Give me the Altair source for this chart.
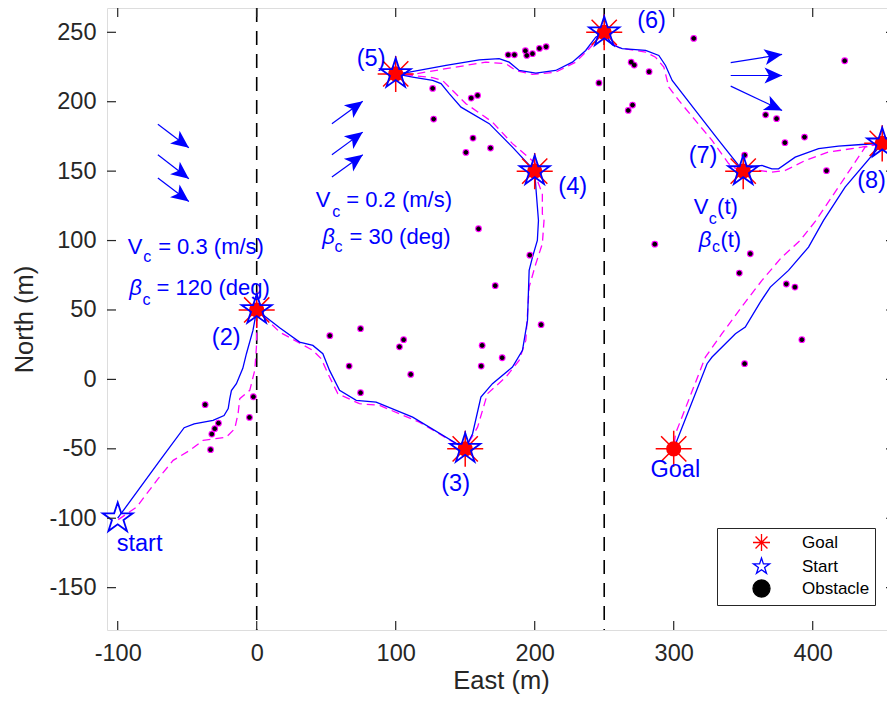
import altair as alt
import pandas as pd
import numpy as np

# ---------------- data ----------------
# waypoints (goals) and start points
goal_x = [0, 150, 200, 100, 250, 350, 450, 300]
goal_y = [50, -50, 150, 220, 250, 150, 170, -50]
start_x = [-100, 0, 150, 200, 100, 250, 350, 450]
start_y = [-100, 50, -50, 150, 220, 250, 150, 170]

# obstacles
obs_x = [-37.1, -27.5, -30.2, -32.3, -33.2, -2.4, -5.2,
         159.6, 196.5, 171.6, 204.6, 74.7, 52.6, 105.7, 102.7, 162.2, 176.6, 66.5, 161.5, 110.8, 74.7,
         180.9, 185.4, 193.3, 194.3, 198.4, 203.4, 208.2, 246.2, 126.6, 154.3, 158.9, 127.3, 155.6, 168.2, 150.5,
         314.4, 269.4, 271.6, 282.3, 270.4, 267.3, 423.0, 366.1, 374.0, 380.0, 394.1, 351.0, 409.9,
         286.4, 355.1, 347.2, 381.0, 387.2, 392.2, 351.0]
obs_y = [-18.2, -31.5, -35.5, -39.4, -50.6, -12.5, -27.4,
         108.5, 89.5, 67.5, 39.4, 36.5, 31.5, 28.6, 23.5, 24.5, 15.6, 9.6, 9.6, 3.6, -9.6,
         233.8, 233.8, 236.7, 233.3, 234.6, 238.4, 239.6, 213.5, 209.6, 202.6, 204.5, 187.5, 173.8, 166.6, 163.5,
         245.6, 228.5, 226.4, 221.6, 197.6, 193.7, 229.5, 190.6, 187.8, 170.5, 174.5, 161.5, 150.3,
         97.4, 90.5, 76.6, 68.7, 66.5, 28.6, 11.3]

# actual path (blue solid)
blue_x = [-100, -69.6, -52.2, -45, -31.4, -23.5, -20.5, -19.4, -18.2, -14.6, -10, -7.4, -2.7, 0,
          16.5, 30.9, 40.4, 47.6, 52.4, 59.6, 71.6, 85.9, 112.2, 150,
          155.3, 161.3, 169.6, 184, 191.2, 194.8, 196, 198.4, 201.9, 202.7, 201, 200,
          184, 167.3, 147, 138.5, 132.6, 126.6, 112.2, 100,
          109.8, 136.2, 160.1, 174.4, 181.6, 188.8, 200.8, 215.1, 227.1, 236.7, 243.9, 250,
          255.8, 262.9, 279.8, 289.3, 294.1, 298.9, 315.6, 332.4, 350,
          356.3, 363.5, 370.6, 375.4, 387.4, 404.2, 418.5, 435.2, 450,
          423.3, 407.8, 397, 382.6, 369.5, 362.3, 351.5, 344.4, 327.6, 324, 300]
blue_y = [-100, -58.3, -34.8, -32, -29.5, -26, -21, -14, -8, -3.1, 8, 18.5, 35.3, 50,
          37.2, 26.9, 24.5, 18.5, 6.5, -7.9, -15.1, -16.3, -27.2, -50,
          -39.1, -12.7, -3.1, 8.9, 20.9, 42.5, 78.5, 88.1, 100.1, 114.5, 136.1, 150,
          167.3, 184.2, 196.1, 205.8, 213, 215.3, 217.7, 220,
          221.3, 226.1, 230.2, 231, 228.5, 222.5, 220.6, 222.5, 228.5, 236.9, 246.5, 250,
          241, 238.2, 237, 233.3, 226.1, 215.3, 193.7, 172.1, 150,
          152.9, 154.1, 151.7, 151.7, 160.1, 166.2, 168, 169.2, 170,
          138.5, 114.5, 95.3, 78.5, 66.5, 55.7, 37.7, 32.9, 16.1, 11.3, -50]

# reference path (magenta dashed)
mag_x = [-99.6, -86.4, -70.9, -60.1, -48.1, -38.5, -28, -21.8, -15.8, -13.4, -12.2, -5, -1.4, -0.2, 0.2, 0,
         16.5, 40.4, 46.4, 52.4, 58.4, 73.9, 88.3, 117, 143.4, 150,
         158.9, 166, 179.3, 188.8, 193.6, 196, 200.8, 205.5, 206.7, 205.5, 205.5, 201.9, 200,
         200.8, 184, 169.6, 150.5, 140.9, 133.7, 126.6, 112.2, 100,
         112.2, 136.2, 164.9, 179.3, 186.4, 198.4, 215.1, 229.5, 239.1, 250,
         253.4, 260.6, 279.8, 286.9, 292.9, 296.5, 303.7, 315.6, 327.6, 339.6, 346.8, 350,
         361.1, 370.6, 380.3, 394.6, 411.3, 435.2, 450,
         437.7, 418.5, 402.0, 391, 377.8, 363.5, 351.5, 334.7, 322.8, 301.3, 300]
mag_y = [-101, -92, -71.5, -58.3, -51.1, -43.9, -42.5, -41.6, -35.5, -24.7, -13.9, -7.9, 6.5, 23.3, 42.5, 50,
         34.1, 20.9, 14.9, 1.7, -10.3, -17.5, -18.7, -30.8, -46.3, -50,
         -34.4, -10.3, 1.7, 13.7, 28.1, 66.5, 83.3, 97.7, 114.5, 119.3, 133.7, 143.3, 150,
         155.3, 169.8, 185.3, 198.6, 208.1, 215.3, 217.3, 218.9, 220,
         219.7, 223.8, 228.5, 227.4, 222.5, 219.7, 221.3, 228.5, 238.2, 250,
         244.1, 238.9, 235.7, 232.1, 224.9, 210.5, 200.9, 186.5, 172.1, 155.3, 150.5, 150,
         150.5, 149.3, 150.5, 157.7, 163.7, 167.3, 170,
         167.3, 138.5, 114.0, 100.1, 88.1, 71.3, 55.7, 32.9, 16.1, -39.1, -50]

# current arrows (tail -> tip)
arr_x0 = [-71.1, -71.1, -71.1, 54.1, 54.1, 54.1, 341.0, 341.0, 341.0]
arr_y0 = [183.7, 161.8, 145.0, 184.2, 161.8, 145.7, 228.1, 218.9, 211.2]
arr_x1 = [-48.8, -48.8, -48.8, 76.3, 76.3, 76.3, 378.0, 378.0, 378.0]
arr_y1 = [166.9, 144.5, 128.2, 200.4, 178.1, 161.8, 234.1, 218.9, 193.7]

# annotation texts
lab_t = ["(2)", "(3)", "(4)", "(5)", "(6)", "(7)", "(8)", "Goal", "start"]
lab_x = [-32.3, 132.8, 217.0, 72.0, 273.7, 310.8, 432.0, 283.3, -100.7]
lab_y = [29.5, -75.1, 138.5, 231.0, 258.0, 160.8, 142.6, -65.5, -118.3]

main_t = ["V", "= 0.3 (m/s)", "= 120 (deg)", "V", "= 0.2 (m/s)", "= 30 (deg)", "V", "(t)", "(t)"]
main_x = [-92.8, -70.9, -72.0, 42.4, 64.4, 66.8, 314.4, 331.2, 333.6]
main_y = [90.5, 90.5, 60.5, 124.1, 124.1, 97.7, 119.3, 119.3, 95.3]
beta_t = ["β", "β", "β"]
beta_x = [-91.7, 47.2, 318.0]
beta_y = [60.5, 97.7, 95.3]
sub_t = ["c", "c", "c", "c", "c", "c"]
sub_x = [-81.6, -82.1, 54.3, 56.0, 325.2, 327.6]
sub_y = [84.5, 53.3, 116.9, 91.7, 112.1, 91.7]

vline_x = [0, 250]
xticks = [-100, 0, 100, 200, 300, 400]
yticks = [-150, -100, -50, 0, 50, 100, 150, 200, 250]
legend_kinds = ["Goal", "Start", "Obstacle"]

# ---------------- layout ----------------
W, H = 788, 622
XDOM = [-107.7, 459.2]
YDOM = [-180.5, 267.5]
FONT = "Liberation Sans"
AX = "#262626"

STAR = ("M0,-1L-0.2245,-0.309L-0.951,-0.309L-0.363,0.118L-0.588,0.809L0,0.382"
        "L0.588,0.809L0.363,0.118L0.951,-0.309L0.2245,-0.309Z")
ASTER = "M-1,0L1,0M0,-1L0,1M-0.7,-0.7L0.7,0.7M-0.7,0.7L0.7,-0.7"
ARROW = "M0,0L-1,-0.45L-0.75,0L-1,0.45Z"

xs = alt.Scale(domain=XDOM, nice=False, zero=False)
ys = alt.Scale(domain=YDOM, nice=False, zero=False)
xaxis = alt.Axis(values=xticks, title="East (m)", grid=False, ticks=False, domain=False,
                 labelFontSize=23.5, labelColor=AX, labelFont=FONT, labelPadding=11,
                 labelExpr="'' + datum.value",
                 titleFontSize=25.5, titleColor=AX, titleFont=FONT, titleFontWeight="normal",
                 titlePadding=4)
yaxis = alt.Axis(values=yticks, title="North (m)", grid=False, ticks=False, domain=False,
                 labelFontSize=23.5, labelColor=AX, labelFont=FONT, labelPadding=11,
                 labelExpr="'' + datum.value",
                 titleFontSize=25.5, titleColor=AX, titleFont=FONT, titleFontWeight="normal",
                 titlePadding=11)


def X(f):
    return alt.X(f, type="quantitative", scale=xs, axis=xaxis)


def Y(f):
    return alt.Y(f, type="quantitative", scale=ys, axis=yaxis)


leg = alt.Legend(title=None, orient="none", legendX=610, legendY=520,
                 symbolSize=290, symbolStrokeWidth=1.3,
                 labelFontSize=17, labelFont=FONT, labelColor="black",
                 strokeColor=AX, fillColor="white", padding=5, rowPadding=1,
                 symbolOffset=30, labelOffset=31)
shape_enc = alt.Shape("kind:N", scale=alt.Scale(domain=legend_kinds, range=[ASTER, STAR, "circle"]), legend=leg)
stroke_enc = alt.Stroke("kind:N", scale=alt.Scale(domain=legend_kinds, range=["red", "blue", "black"]), legend=leg)
fill_enc = alt.Fill("kind:N", scale=alt.Scale(domain=legend_kinds, range=["transparent", "transparent", "black"]), legend=leg)

blue_df = pd.DataFrame({"x": blue_x, "y": blue_y, "i": range(len(blue_x))})
mag_df = pd.DataFrame({"x": mag_x, "y": mag_y, "i": range(len(mag_x))})
obs_df = pd.DataFrame({"x": obs_x, "y": obs_y, "kind": "Obstacle"})
goal_df = pd.DataFrame({"x": goal_x, "y": goal_y, "kind": "Goal"})
start_df = pd.DataFrame({"x": start_x, "y": start_y, "kind": "Start"})

xpx = W / (XDOM[1] - XDOM[0])
ypx = H / (YDOM[1] - YDOM[0])
arr_df = pd.DataFrame({"x0": arr_x0, "y0": arr_y0, "x1": arr_x1, "y1": arr_y1})
arr_df["ang"] = np.degrees(np.arctan2(-(arr_df.y1 - arr_df.y0) * ypx, (arr_df.x1 - arr_df.x0) * xpx)) % 360

layers = []

layers.append(alt.Chart(pd.DataFrame({"x": vline_x})).mark_rule(
    color="black", strokeWidth=1.6, strokeDash=[14, 9]).encode(x=X("x")))

layers.append(alt.Chart(mag_df).mark_line(color="#ff00ff", strokeWidth=1.3, strokeDash=[8, 5]).encode(
    x=X("x"), y=Y("y"), order="i:Q"))
layers.append(alt.Chart(blue_df).mark_line(color="blue", strokeWidth=1.3).encode(
    x=X("x"), y=Y("y"), order="i:Q"))

# current arrows
layers.append(alt.Chart(arr_df).mark_rule(color="blue", strokeWidth=1.2).encode(
    x=X("x0"), y=Y("y0"), x2="x1", y2="y1"))
layers.append(alt.Chart(arr_df).mark_point(shape=ARROW, filled=True, color="blue", size=1240, opacity=1).encode(
    x=X("x1"), y=Y("y1"), angle=alt.Angle("ang:Q", scale=None)))

# obstacles
layers.append(alt.Chart(obs_df).mark_circle(color="#ff00ff", size=46, opacity=1).encode(x=X("x"), y=Y("y")))
layers.append(alt.Chart(obs_df).mark_point(filled=True, size=14, strokeWidth=1, opacity=1).encode(
    x=X("x"), y=Y("y"), shape=shape_enc, stroke=stroke_enc, fill=fill_enc))

# goal asterisks, red dots, stars
layers.append(alt.Chart(goal_df).mark_point(filled=True, size=1300, strokeWidth=1.5, opacity=1).encode(
    x=X("x"), y=Y("y"), shape=shape_enc, stroke=stroke_enc, fill=fill_enc))
layers.append(alt.Chart(goal_df).mark_circle(color="red", size=230, opacity=1).encode(x=X("x"), y=Y("y")))
layers.append(alt.Chart(start_df).mark_point(filled=True, size=1000, strokeWidth=1.8, opacity=1).encode(
    x=X("x"), y=Y("y"), shape=shape_enc, stroke=stroke_enc, fill=fill_enc))

# texts
layers.append(alt.Chart(pd.DataFrame({"x": lab_x, "y": lab_y, "t": lab_t})).mark_text(
    align="left", baseline="middle", fontSize=23.5, font=FONT, color="blue").encode(
    x=X("x"), y=Y("y"), text="t:N"))
layers.append(alt.Chart(pd.DataFrame({"x": main_x, "y": main_y, "t": main_t})).mark_text(
    align="left", baseline="alphabetic", fontSize=22, font=FONT, color="blue").encode(
    x=X("x"), y=Y("y"), text="t:N"))
layers.append(alt.Chart(pd.DataFrame({"x": beta_x, "y": beta_y, "t": beta_t})).mark_text(
    align="left", baseline="alphabetic", fontSize=22, font=FONT, fontStyle="italic", color="blue").encode(
    x=X("x"), y=Y("y"), text="t:N"))
layers.append(alt.Chart(pd.DataFrame({"x": sub_x, "y": sub_y, "t": sub_t})).mark_text(
    align="left", baseline="alphabetic", fontSize=16, font=FONT, color="blue").encode(
    x=X("x"), y=Y("y"), text="t:N"))

# inward tick marks on all four sides
xt = pd.DataFrame({"x": xticks})
yt = pd.DataFrame({"y": yticks})
layers.append(alt.Chart(xt).mark_rule(color=AX, strokeWidth=1.2).encode(
    x=X("x"), y=alt.value(H), y2=alt.value(H - 9)))
layers.append(alt.Chart(xt).mark_rule(color=AX, strokeWidth=1.2).encode(
    x=X("x"), y=alt.value(0), y2=alt.value(9)))
layers.append(alt.Chart(yt).mark_rule(color=AX, strokeWidth=1.2).encode(
    y=Y("y"), x=alt.value(0), x2=alt.value(9)))
layers.append(alt.Chart(yt).mark_rule(color=AX, strokeWidth=1.2).encode(
    y=Y("y"), x=alt.value(W), x2=alt.value(W - 9)))

chart = alt.layer(*layers).properties(
    width=W, height=H,
    autosize=alt.AutoSizeParams(type="none"),
    padding={"left": 99, "top": 0, "right": -8, "bottom": 64},
).configure_view(stroke=AX, strokeWidth=1.2).configure(font=FONT)

chart.save("out.html", embed_options={"renderer": "svg", "actions": False})
